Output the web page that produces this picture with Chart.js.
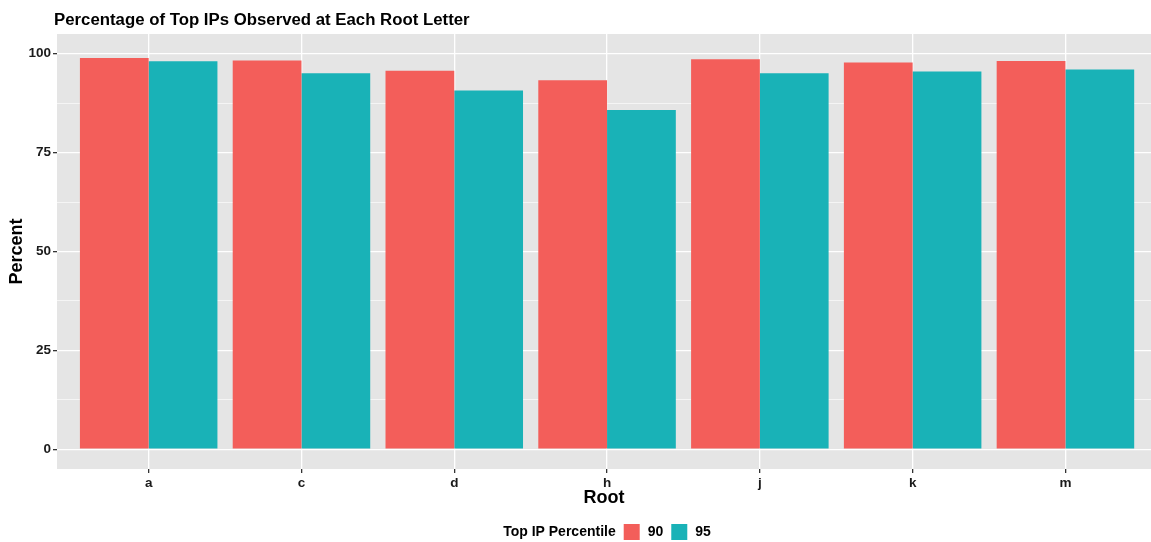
<!DOCTYPE html>
<html><head><meta charset="utf-8">
<script src="https://cdn.jsdelivr.net/npm/chart.js@4"></script>
<style>html,body{margin:0;padding:0;background:#fff}#wrap{width:1151px;height:542px;position:relative}</style>
</head><body><div id="wrap"><canvas id="c" width="1151" height="542"></canvas></div>
<script>
const categories = ['a', 'c', 'd', 'h', 'j', 'k', 'm'];
const percentile90 = [98.9, 98.3, 95.7, 93.3, 98.6, 97.8, 98.2];
const percentile95 = [98.1, 95.1, 90.7, 85.8, 95.1, 95.5, 96.0];
const seriesNames = ['90', '95'];
const yMajorTicks = [0, 25, 50, 75, 100];
const yMinorTicks = [12.5, 37.5, 62.5, 87.5];
const chartTitle = 'Percentage of Top IPs Observed at Each Root Letter';
const legendTitle = 'Top IP Percentile';
const xTitle = 'Root';
const yTitle = 'Percent';

const colors = ['#F35E5A', '#19B2B7'];
const FONT = '"Liberation Sans", Arial, Helvetica, sans-serif';
const panelBg = '#E5E5E5';

const toPoints = vals => vals.map((v, i) => ({ x: i + 1, y: v }));

const decorPlugin = {
  id: 'decor',
  beforeDraw(chart) {
    const { ctx, chartArea: a } = chart;
    ctx.save();
    ctx.fillStyle = panelBg;
    ctx.fillRect(a.left, a.top, a.right - a.left, a.bottom - a.top);
    ctx.restore();
  },
  afterDraw(chart) {
    const { ctx, chartArea: a } = chart;
    ctx.save();
    ctx.fillStyle = '#000';
    ctx.font = 'bold 16.8px ' + FONT;
    ctx.textBaseline = 'middle';
    ctx.textAlign = 'left';
    ctx.fillText(chartTitle, 54, 20);
    ctx.font = 'bold 14px ' + FONT;
    const box = 16, gap = 8;
    const wT = ctx.measureText(legendTitle).width;
    const w0 = ctx.measureText(seriesNames[0]).width;
    const w1 = ctx.measureText(seriesNames[1]).width;
    const total = wT + gap + box + gap + w0 + gap + box + gap + w1;
    let x = (a.left + a.right) / 2 - total / 2 + 3;
    const yc = 532;
    ctx.fillStyle = '#000';
    ctx.fillText(legendTitle, x, yc);
    x += wT + gap;
    ctx.fillStyle = colors[0];
    ctx.fillRect(x, yc - box / 2, box, box);
    x += box + gap;
    ctx.fillStyle = '#000';
    ctx.fillText(seriesNames[0], x, yc);
    x += w0 + gap;
    ctx.fillStyle = colors[1];
    ctx.fillRect(x, yc - box / 2, box, box);
    x += box + gap;
    ctx.fillStyle = '#000';
    ctx.fillText(seriesNames[1], x, yc);
    ctx.restore();
  }
};

new Chart(document.getElementById('c'), {
  type: 'bar',
  data: {
    datasets: [
      { label: seriesNames[0], data: toPoints(percentile90), backgroundColor: colors[0], borderWidth: 0 },
      { label: seriesNames[1], data: toPoints(percentile95), backgroundColor: colors[1], borderWidth: 0 }
    ]
  },
  options: {
    responsive: false,
    animation: false,
    devicePixelRatio: 1,
    categoryPercentage: 0.9,
    barPercentage: 1.0,
    layout: { padding: { top: 34, bottom: 22, left: 0, right: 0 } },
    plugins: { legend: { display: false }, tooltip: { enabled: false }, title: { display: false } },
    scales: {
      x: {
        type: 'linear',
        min: 0.4,
        max: 7.56,
        offset: false,
        afterFit: s => { s.height = 51; },
        afterBuildTicks: s => { s.ticks = categories.map((_, i) => ({ value: i + 1 })); },
        grid: { offset: false, color: '#FFFFFF', lineWidth: 1.3, tickColor: '#333333', tickLength: 4, drawTicks: true },
        border: { display: false },
        ticks: {
          autoSkip: false, maxRotation: 0, padding: 2, color: '#1A1A1A',
          font: { family: FONT, size: 13.5, weight: 'bold' },
          callback: v => categories[Math.round(v) - 1] || ''
        },
        title: { display: true, text: xTitle, color: '#000', font: { family: FONT, size: 18, weight: 'bold' }, padding: { top: 0, bottom: 11 } }
      },
      y: {
        min: -5,
        max: 105,
        afterFit: s => { s.width = 57; },
        afterBuildTicks: s => { s.ticks = [...yMajorTicks, ...yMinorTicks].sort((p, q) => p - q).map(v => ({ value: v })); },
        grid: {
          color: '#FFFFFF',
          lineWidth: c => yMajorTicks.includes(c.tick && c.tick.value) ? 1.3 : 0.6,
          tickColor: c => yMajorTicks.includes(c.tick && c.tick.value) ? '#333333' : 'rgba(0,0,0,0)',
          tickLength: 4
        },
        border: { display: false },
        ticks: {
          autoSkip: false, padding: 2, color: '#1A1A1A',
          font: { family: FONT, size: 13.5, weight: 'bold' },
          callback: v => yMajorTicks.includes(v) ? String(v) : ''
        },
        title: { display: true, text: yTitle, color: '#000', font: { family: FONT, size: 18, weight: 'bold' }, padding: { top: 6, bottom: 0 } }
      }
    }
  },
  plugins: [decorPlugin]
});
</script>
</body></html>
